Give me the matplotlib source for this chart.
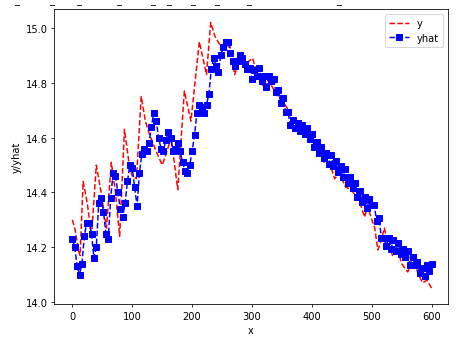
import numpy as np
import matplotlib
matplotlib.use('Agg')
import matplotlib.pyplot as plt

x_y = [0, 5, 10, 13, 18, 25, 32, 40, 48, 57, 65, 72, 79, 87, 95, 100, 107, 115,
       122, 129, 140, 150, 155, 165, 176, 187, 198, 212, 224, 231, 238, 246, 255,
       262, 271, 280, 290, 301, 310, 318, 330, 340, 349, 358, 366, 375, 383, 391,
       402, 410, 420, 428, 438, 446, 456, 466, 475, 482, 488, 493, 500, 505, 510,
       515, 521, 528, 535, 542, 550, 560, 570, 578, 585, 592, 600]
y = [14.30, 14.26, 14.19, 14.17, 14.44, 14.36, 14.24, 14.50, 14.40, 14.27, 14.51,
     14.40, 14.24, 14.63, 14.50, 14.46, 14.45, 14.75, 14.66, 14.61, 14.55, 14.50,
     14.53, 14.60, 14.41, 14.77, 14.66, 14.95, 14.83, 15.02, 14.97, 14.94, 14.92,
     14.95, 14.83, 14.90, 14.87, 14.89, 14.82, 14.79, 14.80, 14.76, 14.74, 14.71,
     14.67, 14.66, 14.64, 14.63, 14.59, 14.57, 14.51, 14.52, 14.45, 14.47, 14.42,
     14.41, 14.38, 14.35, 14.31, 14.35, 14.30, 14.27, 14.19, 14.22, 14.27, 14.20,
     14.17, 14.20, 14.14, 14.11, 14.15, 14.10, 14.07, 14.08, 14.05]

# predicted series, one reading every 4 steps of x (top/bottom of the band
# alternate where the markers form a thick band)
x_hat = np.arange(0, 601, 4)
yhat = [14.23, 14.20, 14.13, 14.10, 14.14, 14.24, 14.29, 14.29, 14.25, 14.16,
        14.20, 14.36, 14.38, 14.33, 14.25, 14.23, 14.38, 14.47, 14.46, 14.40,
        14.34, 14.31, 14.36, 14.44, 14.50, 14.49, 14.42, 14.35, 14.47, 14.54,
        14.56, 14.55, 14.58, 14.64, 14.69, 14.66, 14.60, 14.56, 14.55, 14.59,
        14.62, 14.60, 14.55, 14.56, 14.58, 14.55, 14.51, 14.48, 14.47, 14.50,
        14.55, 14.61, 14.69, 14.72, 14.71, 14.69, 14.72, 14.76, 14.85, 14.89,
        14.86, 14.84, 14.90, 14.93, 14.95, 14.95, 14.91, 14.88, 14.86, 14.88,
        14.90, 14.89, 14.87, 14.85,
        14.855, 14.815, 14.845, 14.825, 14.855, 14.805, 14.825, 14.785, 14.825,
        14.805, 14.815, 14.765, 14.775, 14.725, 14.745, 14.695, 14.695, 14.645,
        14.665, 14.635, 14.655, 14.625, 14.645, 14.615, 14.635, 14.595, 14.615,
        14.565, 14.585, 14.545, 14.565, 14.525, 14.545, 14.505, 14.535, 14.495,
        14.515, 14.475, 14.495, 14.455, 14.485, 14.435, 14.455, 14.415, 14.435,
        14.385, 14.405, 14.365, 14.385, 14.345, 14.375, 14.355, 14.355, 14.295,
        14.305, 14.235, 14.235, 14.205, 14.235, 14.195, 14.225, 14.185, 14.215,
        14.175, 14.195, 14.165, 14.185, 14.135, 14.165, 14.135, 14.145, 14.105,
        14.125, 14.095, 14.135, 14.115, 14.14]

# default 6.4in wide figure, rendered small
fig = plt.figure(figsize=(6.4, 4.775), dpi=457 / 6.4)
ax = fig.add_axes([0.119, 0.1056, 0.861, 0.865])

ax.plot(x_y, y, 'r--', label='y')
ax.plot(x_hat, yhat, 'bs--', markersize=7, label='yhat')

ax.set_xlim(-30, 627)
ax.set_ylim(13.993, 15.069)
ax.set_xticks([0, 100, 200, 300, 400, 500, 600])
ax.set_yticks([14.0, 14.2, 14.4, 14.6, 14.8, 15.0])
ax.set_xlabel('x')
ax.set_ylabel('y/yhat')
ax.legend(loc='upper right')

# clipped title remnants at the very top
for px in [16.5, 51.5, 78.5, 118.5, 152.5, 168.5, 192.5, 216.5, 248.5, 339]:
    fig.text(px / 457, 1 - 3.5 / 341, '_', ha='center', va='baseline', fontsize=10)

fig.savefig('out.png', dpi=457 / 6.4)
